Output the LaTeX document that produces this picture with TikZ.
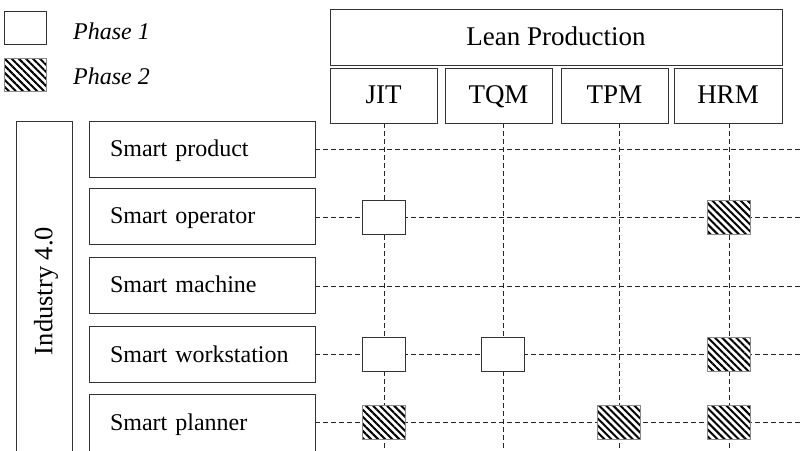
\documentclass[tikz,border=0pt]{standalone}
\usepackage{fontspec}
\setmainfont{Liberation Serif}
\usetikzlibrary{patterns.meta,backgrounds}
\definecolor{edge}{HTML}{333333}
\definecolor{hedge}{HTML}{888888}
\tikzset{
  hdr/.style={draw=edge,line width=0.9pt,inner sep=0pt,text height=18pt,text depth=2.4pt,font=\fontsize{27}{30}\selectfont},
  rowbox/.style={draw=edge,line width=0.9pt,minimum height=56pt,text width=184pt,inner xsep=21pt,inner ysep=0pt,align=left,text height=17pt,text depth=1.6pt,font=\fontsize{24}{28}\selectfont},
  ph1/.style={draw=edge,line width=0.9pt,fill=white,minimum width=43pt,minimum height=34pt,inner sep=0pt},
  ph2/.style={draw=hedge,line width=0.9pt,preaction={fill=white},pattern={Lines[angle=-45,distance=5pt,line width=2pt]},minimum width=43pt,minimum height=34pt,inner sep=0pt},
  lgtext/.style={anchor=base west,inner sep=0pt,font=\fontsize{24}{28}\selectfont\itshape},
  grid/.style={dash pattern=on 5pt off 3pt,line width=0.9pt,draw=black!85}
}
\begin{document}
\begin{tikzpicture}[x=1pt,y=-1pt]
\clip (0,0) rectangle (800,450);
% legend
\node[ph1,minimum width=42pt,minimum height=33pt] (l1) at (25,27.5) {};
\node[ph2,minimum width=42pt,minimum height=33pt] (l2) at (25,74.5) {};
\node[lgtext] (t1) at (73,39.3) {Phase 1};
\node[lgtext] (t2) at (73,84) {Phase 2};
% header
\node[hdr,text depth=0.6pt,minimum width=452pt,minimum height=56pt] (lean) at (556,37) {Lean Production};
\node[hdr,minimum width=107pt,minimum height=55pt] (jit) at (383.5,95.5) {JIT};
\node[hdr,minimum width=107pt,minimum height=55pt] (tqm) at (498.5,95.5) {TQM};
\node[hdr,minimum width=107pt,minimum height=55pt] (tpm) at (614.5,95.5) {TPM};
\node[hdr,minimum width=108pt,minimum height=55pt] (hrm) at (728,95.5) {HRM};
% industry
\node[draw=edge,line width=0.9pt,minimum width=56pt,minimum height=340pt,inner sep=0pt] (ind) at (44,291) {};
\node[rotate=90,font=\fontsize{26.5}{30}\selectfont,inner sep=0pt] (indt) at (46,291) {Industry 4.0};
% rows
\node[rowbox] (prod) at (202,149) {Smart product};
\node[rowbox] (oper) at (202,216) {Smart operator};
\node[rowbox] (mach) at (202,285) {Smart machine};
\node[rowbox] (work) at (202,354.5) {Smart workstation};
\node[rowbox,minimum height=58pt] (plan) at (202,423) {Smart planner};
% coordinates at the edges
\coordinate (b1) at (384,450);
\coordinate (b2) at (503,450);
\coordinate (b3) at (619,450);
\coordinate (b4) at (729,450);
\coordinate (r1) at (800,149);
\coordinate (r2) at (800,217);
\coordinate (r3) at (800,286);
\coordinate (r4) at (800,354.5);
\coordinate (r5) at (800,422);
% markers
\node[ph1] (m1) at (b1 |- r2) {};
\node[ph2] (m2) at (b4 |- r2) {};
\node[ph1] (m3) at (b1 |- r4) {};
\node[ph1] (m4) at (b2 |- r4) {};
\node[ph2] (m5) at (b4 |- r4) {};
\node[ph2] (m6) at (b1 |- r5) {};
\node[ph2] (m7) at (b3 |- r5) {};
\node[ph2] (m8) at (b4 |- r5) {};
\begin{scope}[on background layer]
\fill[white] (0,0) rectangle (800,450);
\draw[grid] (b1 |- jit.south) -- (b1);
\draw[grid] (b2 |- tqm.south) -- (b2);
\draw[grid] (b3 |- tpm.south) -- (b3);
\draw[grid] (b4 |- hrm.south) -- (b4);
\draw[grid] (prod.east |- r1) -- (r1);
\draw[grid] (oper.east |- r2) -- (r2);
\draw[grid] (mach.east |- r3) -- (r3);
\draw[grid] (work.east |- r4) -- (r4);
\draw[grid] (plan.east |- r5) -- (r5);
\end{scope}
\end{tikzpicture}
\end{document}
